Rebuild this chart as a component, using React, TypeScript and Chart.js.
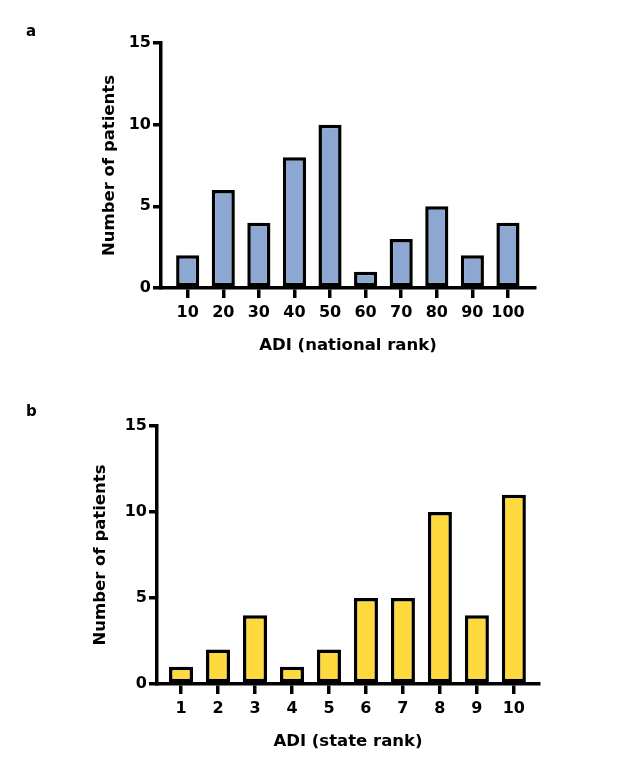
import React, { useEffect, useRef } from "react";
import { Chart, registerables } from "chart.js";

Chart.register(...registerables);

// ---- data ----
const nationalRanks = [10, 20, 30, 40, 50, 60, 70, 80, 90, 100];
const nationalCounts = [2, 6, 4, 8, 10, 1, 3, 5, 2, 4];
const stateRanks = [1, 2, 3, 4, 5, 6, 7, 8, 9, 10];
const stateCounts = [1, 2, 4, 1, 2, 5, 5, 10, 4, 11];
const yTickValues = [0, 5, 10, 15];

const FONT = "'DejaVu Sans', 'Liberation Sans', sans-serif";

type PanelProps = {
  top: number;
  letter: string;
  ranks: number[];
  counts: number[];
  color: string;
  xTitle: string;
  xMin: number;
  xMax: number;
  area: { left: number; top: number; right: number; bottom: number };
  yTitlePad: number;
};

const W = 622;
const H = 390;
const X_SCALE_H = 80;

function Panel(p: PanelProps) {
  const ref = useRef<HTMLCanvasElement | null>(null);
  useEffect(() => {
    if (!ref.current) return;
    const chart = new Chart(ref.current, {
      type: "bar",
      data: {
        datasets: [
          {
            data: p.ranks.map((r, i) => ({ x: r, y: p.counts[i] })),
            backgroundColor: p.color,
            borderColor: "#000",
            borderWidth: 3.5,
            borderSkipped: false,
            barPercentage: 0.65,
            categoryPercentage: 1,
          } as any,
        ],
      },
      options: {
        animation: false,
        responsive: false,
        devicePixelRatio: 1,
        layout: {
          padding: {
            left: 0,
            top: p.area.top,
            right: W - p.area.right,
            bottom: H - p.area.bottom - X_SCALE_H,
          },
        },
        plugins: {
          legend: { display: false },
          tooltip: { enabled: false },
        },
        scales: {
          x: {
            type: "linear",
            min: p.xMin,
            max: p.xMax,
            offset: false,
            afterBuildTicks: (s: any) => {
              s.ticks = p.ranks.map((v) => ({ value: v }));
            },
            afterFit: (s: any) => {
              s.height = X_SCALE_H;
            },
            grid: {
              offset: false,
              drawOnChartArea: false,
              drawTicks: true,
              tickLength: 10,
              lineWidth: 3.5,
              color: "#000",
            },
            border: { display: true, width: 3.5, color: "#000", z: 1 },
            ticks: {
              color: "#000",
              font: { family: FONT, size: 16, weight: "bold" },
              padding: 5,
              maxRotation: 0,
              autoSkip: false,
              callback: (v: any) => String(v),
            },
            title: {
              display: true,
              text: p.xTitle,
              color: "#000",
              font: { family: FONT, size: 16.5, weight: "bold" },
              padding: { top: 0, bottom: 12.6 },
            },
          } as any,
          y: {
            type: "linear",
            min: 0,
            max: 15,
            afterBuildTicks: (s: any) => {
              s.ticks = yTickValues.map((v) => ({ value: v }));
            },
            afterFit: (s: any) => {
              s.width = p.area.left;
            },
            grid: {
              drawOnChartArea: false,
              drawTicks: true,
              tickLength: 8,
              lineWidth: 3.5,
              color: "#000",
            },
            border: { display: true, width: 3.5, color: "#000", z: 1 },
            ticks: {
              color: "#000",
              font: { family: FONT, size: 16, weight: "bold" },
              padding: 2,
              callback: (v: any) => String(v),
            },
            title: {
              display: true,
              text: "Number of patients",
              color: "#000",
              font: { family: FONT, size: 16.5, weight: "bold" },
              padding: { top: p.yTitlePad, bottom: 0 },
            },
          } as any,
        },
      },
    });
    return () => chart.destroy();
  }, []);

  return (
    <div style={{ position: "absolute", left: 0, top: p.top, width: W, height: H }}>
      <canvas ref={ref} width={W} height={H} style={{ display: "block", width: W, height: H }} />
      <div
        style={{
          position: "absolute",
          left: 26,
          top: p.top === 0 ? 24.3 : 14.3,
          fontFamily: FONT,
          fontWeight: "bold",
          fontSize: 15,
          lineHeight: "15px",
          color: "#000",
        }}
      >
        {p.letter}
      </div>
    </div>
  );
}

export default function App() {
  return (
    <div style={{ position: "absolute", left: 0, top: 0, width: W, height: 780, background: "#fff" }}>
      <Panel
        top={0}
        letter="a"
        ranks={nationalRanks}
        counts={nationalCounts}
        color="#8CA8D2"
        xTitle="ADI (national rank)"
        xMin={2.5}
        xMax={107.6}
        area={{ left: 161, top: 43, right: 535, bottom: 288 }}
        yTitlePad={100}
      />
      <Panel
        top={390}
        letter="b"
        ranks={stateRanks}
        counts={stateCounts}
        color="#FFDA3E"
        xTitle="ADI (state rank)"
        xMin={0.35}
        xMax={10.68}
        area={{ left: 157, top: 36, right: 539, bottom: 294 }}
        yTitlePad={91}
      />
    </div>
  );
}
